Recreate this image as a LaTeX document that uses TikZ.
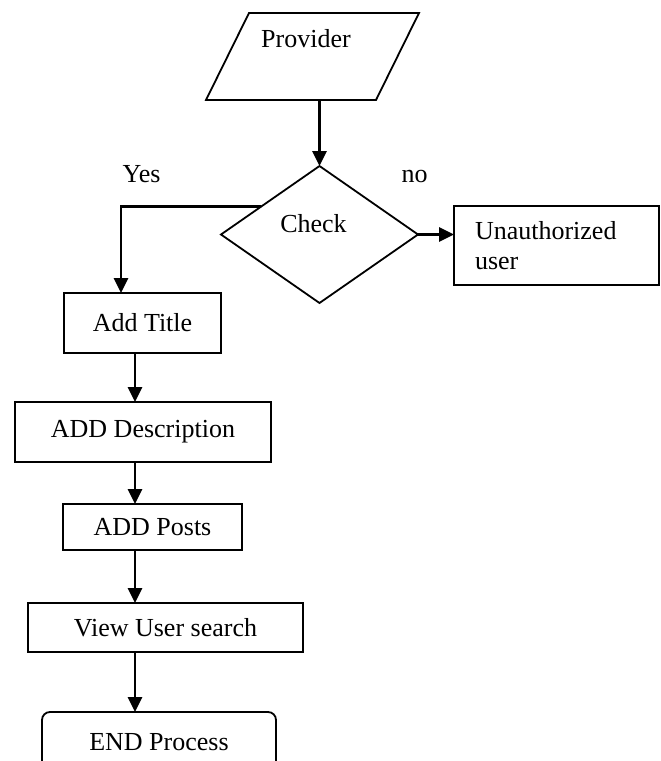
\documentclass[tikz,border=0pt]{standalone}
\usepackage{fontspec}
\setmainfont{Liberation Serif}
\usetikzlibrary{shapes.geometric,arrows.meta,calc}

\begin{document}
\begin{tikzpicture}[x=1pt, y=-1pt,
    every node/.style={font=\fontsize{26}{30}\selectfont},
    box/.style={draw, line width=1.8pt, inner sep=0pt, outer sep=0pt, text centered},
    decision/.style={draw, line width=1.8pt, diamond, minimum width=197pt, minimum height=137pt, inner sep=0pt, outer sep=0pt},
    flow/.style={line width=2.8pt, -{Triangle[length=15pt,width=14pt]}}
]
\useasboundingbox (0,0) rectangle (661,761);

\draw[line width=1.8pt, line join=miter] (249,13) -- (419,13) -- (376,100) -- (206,100) -- cycle;
\node[anchor=base] (prov) at (306,47.5) {Provider};
\coordinate (provout) at (319.5,100);

\node[decision] (chk) at (319.5,234.5) {};
\node[anchor=base] (chktxt) at (313.5,232) {Check};

\node[anchor=base] (yes) at (141.5,182) {Yes};
\node[anchor=base] (no) at (414.5,182) {no};

\node[box, minimum width=205pt, minimum height=79pt, text width=163pt, align=left, inner xsep=21pt] (unauth) at (556.5,245.5) {Unauthorized\\user};

\node[box, minimum width=157pt, minimum height=60pt] (title) at (142.5,323) {Add Title};
\node[box, minimum width=256pt, minimum height=60pt] (desc) at (143,432) {ADD Description};
\node[box, minimum width=179pt, minimum height=46pt] (posts) at (152.5,527) {ADD Posts};
\node[box, minimum width=275pt, minimum height=49pt] (view) at (165.5,627.5) {View User search};
\node[box, rounded corners=8pt, minimum width=234pt, minimum height=60pt] (endp) at (159,742) {END Process};

\coordinate (col) at (135,0);
\coordinate (yescol) at (121,0);

\draw[flow] (provout) -- (chk.north);
\draw[flow] ($(chk.west)!0.41!(chk.north)$) -| (title.north -| yescol);
\draw[flow] (chk.east) -- (chk.east -| unauth.west);
\draw[flow] (title.south -| col) -- (desc.north -| col);
\draw[flow] (desc.south -| col) -- (posts.north -| col);
\draw[flow] (posts.south -| col) -- (view.north -| col);
\draw[flow] (view.south -| col) -- (endp.north -| col);

\end{tikzpicture}
\end{document}
